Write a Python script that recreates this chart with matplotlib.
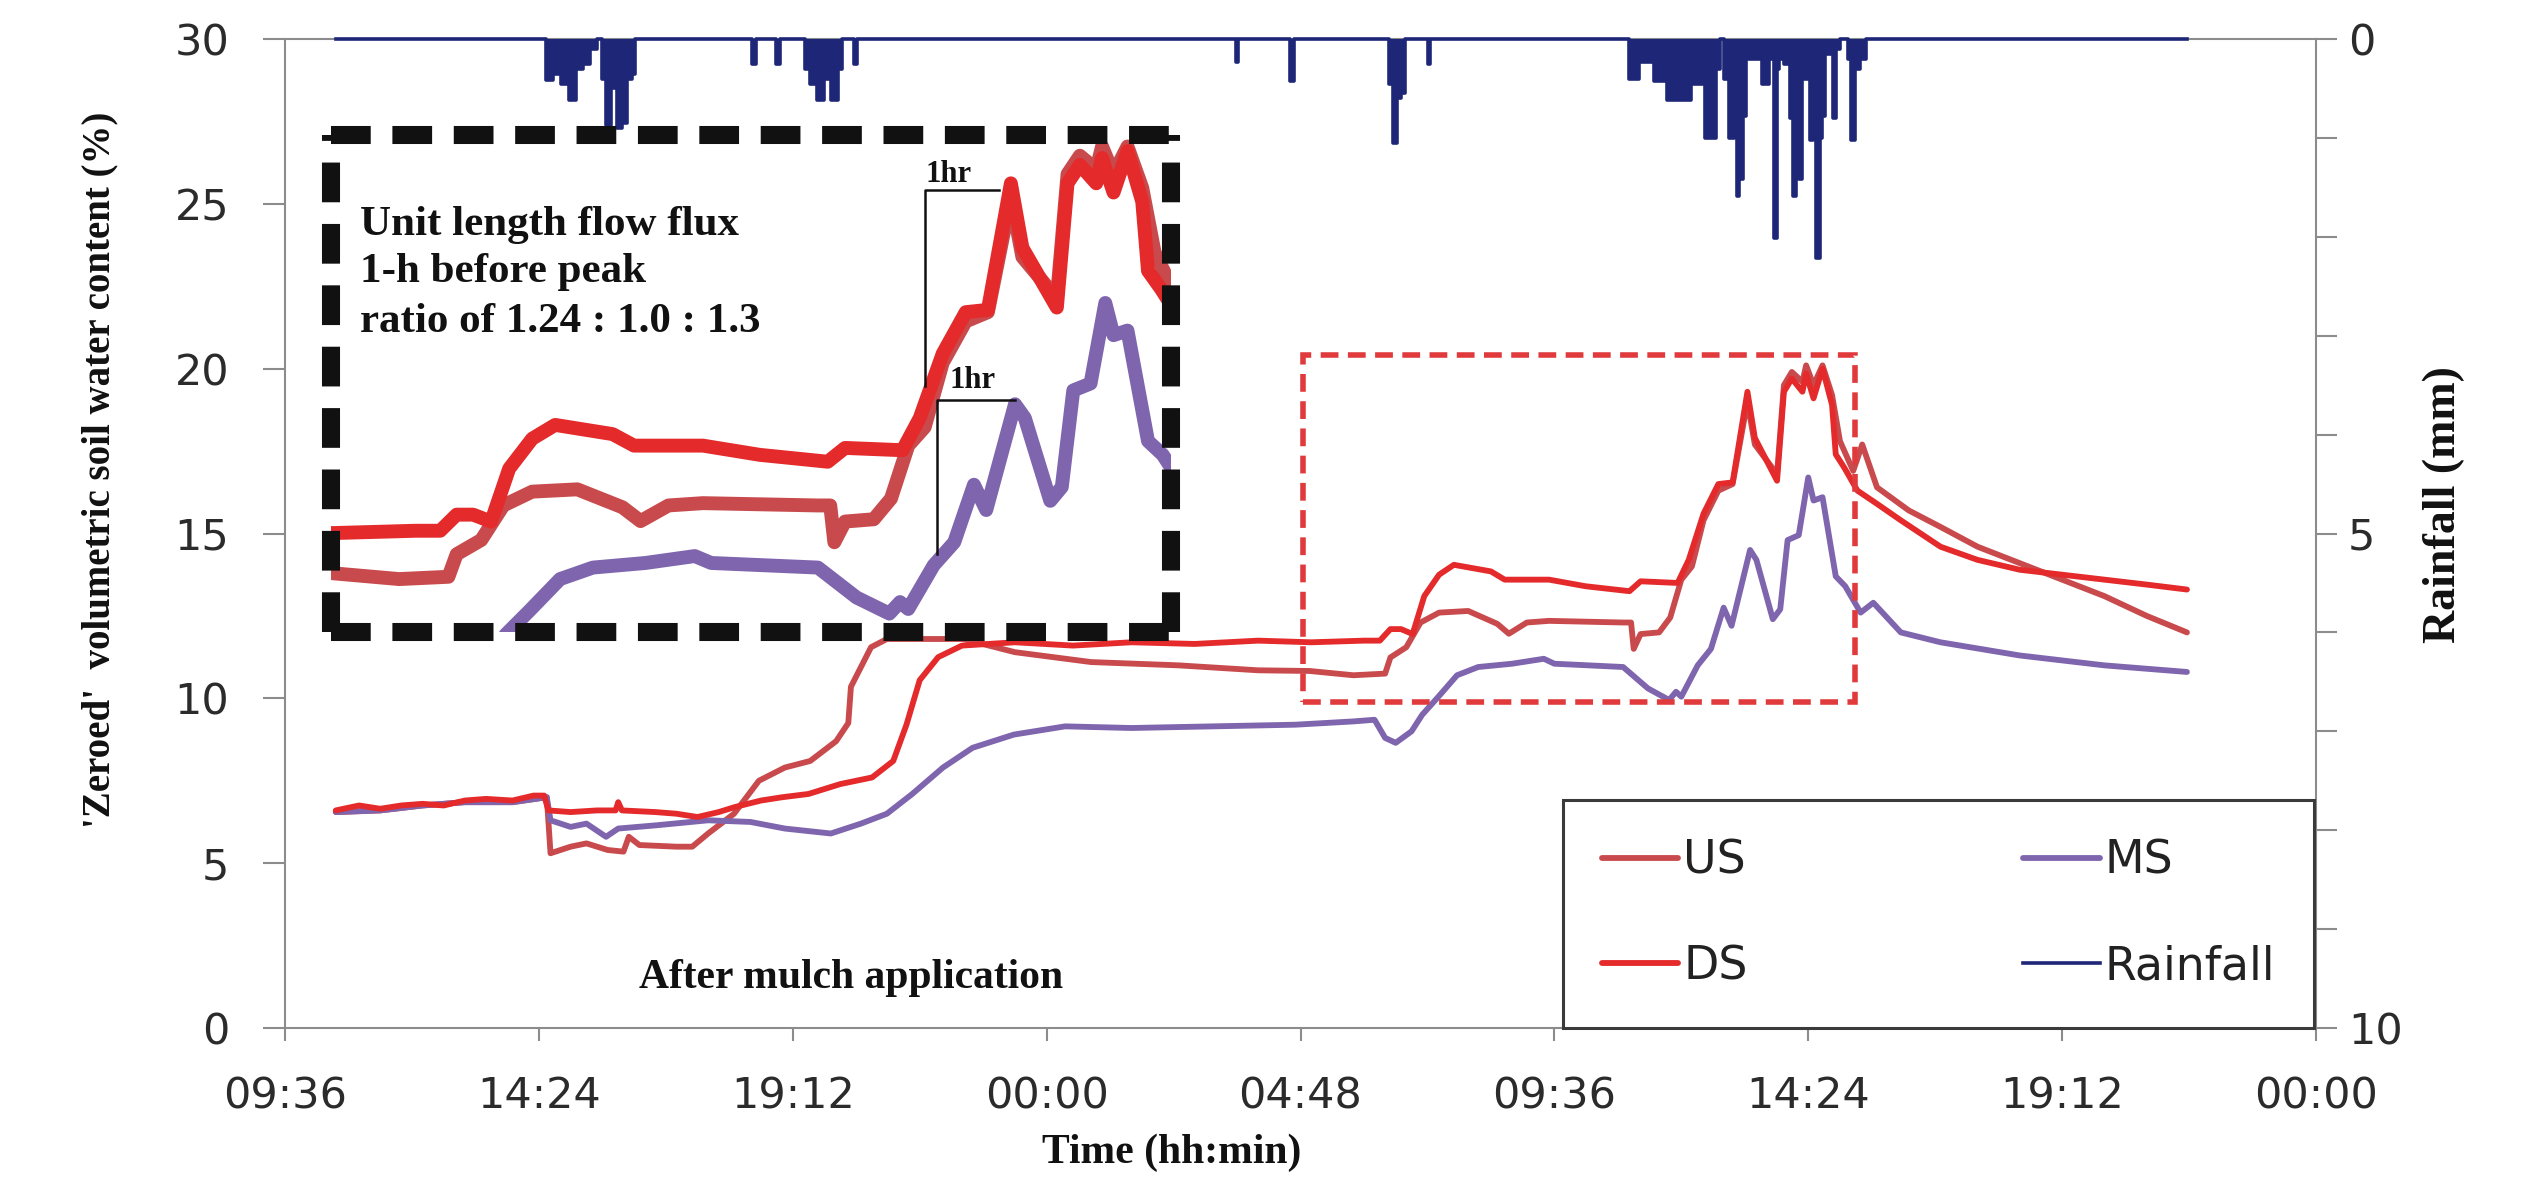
import matplotlib
matplotlib.use('Agg')
import matplotlib.pyplot as plt
from matplotlib.lines import Line2D
from matplotlib.patches import Rectangle

# ---------------- data (time in hours from 00:00 of day 1) ----------------
X_TICKS = [9.6, 14.4, 19.2, 24.0, 28.8, 33.6, 38.4, 43.2, 48.0]
X_TICK_LABELS = ['09:36', '14:24', '19:12', '00:00', '04:48', '09:36', '14:24', '19:12', '00:00']

DS_T = [10.56, 11.0, 11.4, 11.8, 12.2, 12.6, 13.0, 13.4, 13.9, 14.3, 14.5, 14.58, 15.0, 15.5,
        15.85, 15.9, 15.97, 16.6, 17.0, 17.4, 17.8, 18.1, 18.6, 19.0, 19.5, 20.1, 20.7, 21.1,
        21.35, 21.6, 21.95, 22.4, 23.4, 24.5, 25.6, 26.8, 28.0, 29.0, 30.0, 30.3, 30.5, 30.7,
        30.92, 31.14, 31.42, 31.7, 32.4, 32.66, 33.5, 34.19, 35.02, 35.23, 35.93, 36.14, 36.42,
        36.7, 36.97, 37.25, 37.39, 37.81, 37.94, 38.09, 38.29, 38.36, 38.5, 38.67, 38.85, 38.92,
        39.08, 39.33, 39.7, 40.15, 40.9, 41.6, 42.4, 43.2, 44.0, 44.8, 45.56]
DS_V = [6.6, 6.75, 6.65, 6.75, 6.8, 6.75, 6.9, 6.95, 6.9, 7.05, 7.05, 6.6, 6.55, 6.6,
        6.6, 6.85, 6.6, 6.55, 6.5, 6.4, 6.55, 6.7, 6.9, 7.0, 7.1, 7.4, 7.6, 8.1,
        9.2, 10.55, 11.25, 11.6, 11.7, 11.6, 11.7, 11.65, 11.75, 11.7, 11.75, 11.75, 12.1, 12.1,
        11.95, 13.1, 13.75, 14.05, 13.85, 13.6, 13.6, 13.4, 13.25, 13.55, 13.5, 14.2, 15.6,
        16.5, 16.55, 19.3, 17.9, 16.6, 19.3, 19.7, 19.3, 19.85, 19.1, 20.0, 18.9, 17.4,
        17.0, 16.3, 15.9, 15.4, 14.6, 14.2, 13.9, 13.75, 13.6, 13.45, 13.3]

US_T = [10.56, 11.4, 12.2, 13.0, 13.9, 14.55, 14.62, 15.0, 15.3, 15.7, 16.0, 16.1, 16.3, 17.0,
        17.3, 17.6, 18.09, 18.56, 19.05, 19.53, 20.02, 20.25, 20.3, 20.49, 20.68, 20.98, 22.42,
        23.4, 24.84, 26.5, 28.0, 28.97, 29.8, 30.4, 30.5, 30.8, 31.07, 31.42, 31.97, 32.52,
        32.74, 33.08, 33.5, 34.89, 35.05, 35.1, 35.23, 35.58, 35.79, 36.0, 36.2, 36.42, 36.7,
        36.97, 37.25, 37.39, 37.81, 37.94, 38.09, 38.29, 38.36, 38.5, 38.67, 38.85, 39.0, 39.25,
        39.42, 39.7, 40.3, 40.9, 41.6, 42.4, 43.2, 44.0, 44.8, 45.56]
US_V = [6.55, 6.6, 6.75, 6.85, 6.85, 7.0, 5.3, 5.5, 5.6, 5.4, 5.35, 5.8, 5.55, 5.5,
        5.5, 5.9, 6.5, 7.5, 7.9, 8.1, 8.7, 9.25, 10.35, 10.95, 11.55, 11.8, 11.8,
        11.4, 11.1, 11.0, 10.85, 10.83, 10.7, 10.75, 11.24, 11.55, 12.3, 12.6, 12.65, 12.26,
        11.96, 12.3, 12.35, 12.3, 12.3, 11.5, 11.95, 12.0, 12.45, 13.6, 14.0, 15.4, 16.3,
        16.5, 19.0, 17.7, 16.8, 19.5, 19.9, 19.6, 20.1, 19.5, 20.1, 19.2, 17.8, 16.9,
        17.7, 16.4, 15.7, 15.2, 14.6, 14.1, 13.6, 13.1, 12.5, 12.0]

MS_T = [10.56, 11.4, 12.2, 13.0, 13.9, 14.55, 14.62, 15.0, 15.3, 15.67, 15.9, 16.63, 17.6,
        18.4, 19.05, 19.92, 20.49, 20.98, 21.46, 22.04, 22.6, 23.38, 24.35, 25.6, 27.15, 28.7,
        29.8, 30.2, 30.4, 30.6, 30.9, 31.1, 31.38, 31.76, 32.16, 32.8, 33.4, 33.6, 34.9, 35.37,
        35.77, 35.9, 36.0, 36.31, 36.56, 36.8, 36.95, 37.3, 37.42, 37.73, 37.87, 38.01, 38.22,
        38.4, 38.5, 38.67, 38.92, 39.1, 39.39, 39.63, 40.15, 40.9, 42.4, 44.0, 45.56]
MS_V = [6.55, 6.6, 6.75, 6.85, 6.85, 7.0, 6.3, 6.1, 6.2, 5.8, 6.05, 6.15, 6.3,
        6.25, 6.05, 5.9, 6.2, 6.5, 7.1, 7.9, 8.5, 8.9, 9.15, 9.1, 9.15, 9.2,
        9.3, 9.35, 8.8, 8.65, 9.0, 9.5, 10.0, 10.7, 10.95, 11.05, 11.2, 11.05, 10.95, 10.3,
        9.95, 10.2, 10.05, 11.0, 11.5, 12.75, 12.2, 14.5, 14.2, 12.4, 12.7, 14.8, 14.95,
        16.7, 16.0, 16.1, 13.7, 13.4, 12.6, 12.9, 12.0, 11.7, 11.3, 11.0, 10.8]

RAIN_T = [10.56,
          14.5, 14.57, 14.75, 14.9, 15.05, 15.15, 15.3, 15.45, 15.55, 15.62, 15.72, 15.82, 15.92,
          16.02, 16.12, 16.2, 16.25,
          18.4, 18.47, 18.53, 18.86, 18.92, 18.98, 19.4, 19.47, 19.6, 19.73, 19.85, 20.0, 20.1,
          20.15, 20.32, 20.38, 20.44,
          27.55, 27.6, 27.65, 28.58, 28.64, 28.7, 30.45, 30.5, 30.58, 30.66, 30.75, 30.8, 31.18,
          31.23, 31.28,
          34.98, 35.03, 35.19, 35.22, 35.47, 35.5, 35.72, 35.75, 36.16, 36.2, 36.42, 36.47, 36.62,
          36.68, 36.77, 36.86, 36.96, 37.03, 37.08, 37.12, 37.14, 37.2, 37.25, 37.49, 37.55,
          37.62, 37.7, 37.79, 37.84, 37.87, 38.03, 38.08, 38.15, 38.2, 38.25, 38.33, 38.4, 38.45,
          38.52, 38.59, 38.64, 38.69, 38.73, 38.85, 38.9, 38.96, 39.05, 39.12, 39.18, 39.25,
          39.3, 39.45, 39.53,
          45.56]
RAIN_MM = [0.0,
           0.0, 0.41, 0.35, 0.45, 0.62, 0.3, 0.25, 0.1, 0.0, 0.4, 0.87, 0.5, 0.9,
           0.85, 0.4, 0.35, 0.0,
           0.0, 0.25, 0.0, 0.0, 0.25, 0.0, 0.0, 0.3, 0.45, 0.62, 0.4, 0.62, 0.3,
           0.0, 0.0, 0.25, 0.0,
           0.0, 0.23, 0.0, 0.0, 0.42, 0.0, 0.0, 0.45, 1.05, 0.6, 0.55, 0.0, 0.0,
           0.25, 0.0,
           0.0, 0.4, 0.4, 0.23, 0.23, 0.42, 0.42, 0.62, 0.62, 0.45, 0.45, 1.0, 1.0,
           0.3, 0.0, 0.4, 1.0, 0.8, 1.59, 1.2, 1.42, 0.78, 0.2, 0.2, 0.45,
           0.45, 0.2, 2.01, 0.3, 0.2, 0.25, 0.8, 1.59, 0.9, 1.42, 0.4, 0.4, 1.02,
           1.0, 2.21, 1.0, 0.78, 0.15, 0.15, 0.8, 0.1, 0.0, 0.0, 0.2, 1.02,
           0.3, 0.2, 0.0,
           0.0]

# zoom window marked by the red dashed box, and the limits of the enlarged inset
ZOOM_BOX = (28.85, 9.9, 39.29, 20.41)
INSET_XLIM = (28.97, 39.2)
INSET_YLIM = (9.55, 20.35)

# ---------------- styling ----------------
US_C = '#C94A4C'
DS_C = '#E42A2B'
MS_C = '#7E65AE'
RAIN_C = '#1E2677'
AX_C = '#8C8C8C'
TXT_C = '#2B2B2B'
SERIF = ['Liberation Serif', 'DejaVu Serif']

plt.rcParams['font.family'] = ['DejaVu Sans']

W, H = 2536, 1179
fig = plt.figure(figsize=(W / 100, H / 100), dpi=100)


def fxy(x, y):
    return x / W, 1 - y / H


L, R, T, B = 285, 2316, 39, 1028
ax = fig.add_axes([L / W, 1 - B / H, (R - L) / W, (B - T) / H])

ax.plot(US_T, US_V, color=US_C, lw=4.2, solid_capstyle='round', label='US', zorder=3)
ax.plot(MS_T, MS_V, color=MS_C, lw=4.2, solid_capstyle='round', label='MS', zorder=3)
ax.plot(DS_T, DS_V, color=DS_C, lw=4.2, solid_capstyle='round', label='DS', zorder=4)

ax.set_xlim(9.6, 48.0)
ax.set_ylim(0, 30)
ax.set_xticks(X_TICKS)
ax.set_xticklabels(X_TICK_LABELS)
ax.set_yticks([0, 5, 10, 15, 20, 25, 30])
ax.tick_params(axis='y', direction='out', length=16, width=1.5, color=AX_C, pad=24,
               labelsize=31, labelcolor=TXT_C)
ax.tick_params(axis='x', direction='out', length=9, width=1.5, color=AX_C, pad=25,
               labelsize=31, labelcolor=TXT_C)
for s in ['left', 'bottom', 'top']:
    ax.spines[s].set_color(AX_C)
    ax.spines[s].set_linewidth(1.5)
ax.spines['right'].set_visible(False)

x0, y0, x1, y1 = ZOOM_BOX
ax.add_patch(Rectangle((x0, y0), x1 - x0, y1 - y0, fill=False, edgecolor='#E03A3C', lw=4,
                       linestyle=(0, (3.2, 1.7)), zorder=5))

# rainfall on the inverted right axis
ax2 = ax.twinx()
ax2.fill_between(RAIN_T, 0, RAIN_MM, step='mid', color=RAIN_C, lw=0, zorder=2)
rain_line, = ax2.plot(RAIN_T, RAIN_MM, color=RAIN_C, lw=2.6, drawstyle='steps-mid',
                      label='Rainfall', zorder=3, clip_on=False)
ax2.set_ylim(10, 0)
ax2.set_yticks([0, 5, 10])
ax2.set_yticks(range(0, 11), minor=True)
ax2.tick_params(axis='y', which='both', direction='out', length=15, width=1.5, color=AX_C,
                pad=8, labelsize=31, labelcolor=TXT_C)
for s in ['left', 'bottom', 'top']:
    ax2.spines[s].set_visible(False)
ax2.spines['right'].set_color(AX_C)
ax2.spines['right'].set_linewidth(1.5)

h_us, h_ms, h_ds = ax.get_lines()[:3]
leg_rain = Line2D([], [], color=RAIN_C, lw=2.6)
leg = ax2.legend([h_us, h_ds, h_ms, leg_rain], ['US', 'DS', 'MS', 'Rainfall'], ncol=2,
                 loc='lower left', bbox_to_anchor=((1563 - L) / (R - L), 0.0, 751 / (R - L), 0.3),
                 mode='expand', borderaxespad=0, fontsize=33, handlelength=1.66,
                 handletextpad=0.11, borderpad=0.85, labelspacing=1.31, frameon=True,
                 fancybox=False, edgecolor='#3A3A3A', framealpha=1)
leg.get_frame().set_linewidth(2.2)
leg.set_zorder(8)
for t in leg.get_texts():
    t.set_color('#222222')

# axis titles
fig.text(*fxy(100, 470), "'Zeroed'  volumetric soil water content (%)", rotation=90,
         ha='center', va='center', fontsize=28, fontweight='bold', family=SERIF, color='#111111')
fig.text(*fxy(2444, 505), 'Rainfall (mm)', rotation=90, ha='center', va='center',
         fontsize=33, fontweight='bold', family=SERIF, color='#111111')
fig.text(*fxy(1172, 1153), 'Time (hh:min)', ha='center', va='center', fontsize=30,
         fontweight='bold', family=SERIF, color='#111111')
fig.text(*fxy(851, 978), 'After mulch application', ha='center', va='center', fontsize=30,
         fontweight='bold', family=SERIF, color='#111111')

# enlarged inset of the peak period
IL, IR, IT, IB = 331, 1171, 135, 632
axi = fig.add_axes([IL / W, 1 - IB / H, (IR - IL) / W, (IB - IT) / H], zorder=6)
axi.plot(US_T, US_V, color=US_C, lw=10, solid_capstyle='round')
axi.plot(MS_T, MS_V, color=MS_C, lw=10, solid_capstyle='round')
axi.plot(DS_T, DS_V, color=DS_C, lw=10, solid_capstyle='round')
axi.set_xlim(*INSET_XLIM)
axi.set_ylim(*INSET_YLIM)
axi.set_xticks([])
axi.set_yticks([])
for s in axi.spines.values():
    s.set_linestyle((0, (2.2, 1.2)))
    s.set_linewidth(13)
    s.set_color('#111111')
    s.set_capstyle('butt')
    s.set_zorder(10)

for txt, yb in [('Unit length flow flux', 235), ('1-h before peak', 282),
                ('ratio of 1.24 : 1.0 : 1.3', 332)]:
    fig.text(*fxy(360, yb), txt, ha='left', va='baseline', fontsize=31, fontweight='bold',
             family=SERIF, color='#111111', zorder=20)

for (xv, ytop, ybot, xend, xt, yt) in [(925, 190, 386, 999, 926, 182),
                                       (937, 400, 554, 1015, 949, 388)]:
    fig.add_artist(Line2D([xv / W, xv / W, xend / W], [1 - ybot / H, 1 - ytop / H, 1 - ytop / H],
                          color='#111111', lw=1.8, zorder=20))
    fig.text(*fxy(xt, yt), '1hr', ha='left', va='baseline', fontsize=22, fontweight='bold',
             family=SERIF, color='#111111', zorder=20)

fig.savefig('out.png', dpi=100, facecolor='white')
